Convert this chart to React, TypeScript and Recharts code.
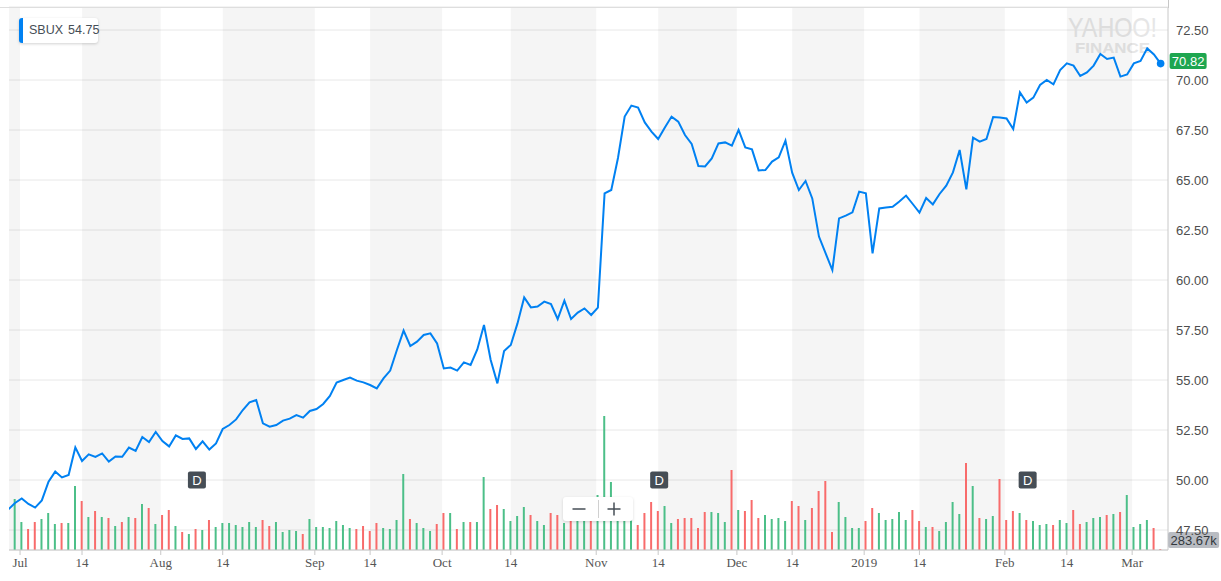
import React from 'react';
import {
  ComposedChart,
  Line,
  Bar,
  Cell,
  XAxis,
  YAxis,
  CartesianGrid,
  ReferenceArea,
  ReferenceDot,
} from 'recharts';

// ---------------- data ----------------
const symbol = 'SBUX';
const legendValue = 54.75;

const dates = [
  '2018-06-28', '2018-06-29',
  '2018-07-02', '2018-07-03', '2018-07-05', '2018-07-06', '2018-07-09', '2018-07-10', '2018-07-11', '2018-07-12', '2018-07-13',
  '2018-07-16', '2018-07-17', '2018-07-18', '2018-07-19', '2018-07-20', '2018-07-23', '2018-07-24', '2018-07-25', '2018-07-26',
  '2018-07-27', '2018-07-30', '2018-07-31',
  '2018-08-01', '2018-08-02', '2018-08-03', '2018-08-06', '2018-08-07', '2018-08-08', '2018-08-09', '2018-08-10', '2018-08-13',
  '2018-08-14', '2018-08-15', '2018-08-16', '2018-08-17', '2018-08-20', '2018-08-21', '2018-08-22', '2018-08-23', '2018-08-24',
  '2018-08-27', '2018-08-28', '2018-08-29', '2018-08-30', '2018-08-31',
  '2018-09-04', '2018-09-05', '2018-09-06', '2018-09-07', '2018-09-10', '2018-09-11', '2018-09-12', '2018-09-13', '2018-09-14',
  '2018-09-17', '2018-09-18', '2018-09-19', '2018-09-20', '2018-09-21', '2018-09-24', '2018-09-25', '2018-09-26', '2018-09-27',
  '2018-09-28',
  '2018-10-01', '2018-10-02', '2018-10-03', '2018-10-04', '2018-10-05', '2018-10-08', '2018-10-09', '2018-10-10', '2018-10-11',
  '2018-10-12', '2018-10-15', '2018-10-16', '2018-10-17', '2018-10-18', '2018-10-19', '2018-10-22', '2018-10-23', '2018-10-24',
  '2018-10-25', '2018-10-26', '2018-10-29', '2018-10-30', '2018-10-31',
  '2018-11-01', '2018-11-02', '2018-11-05', '2018-11-06', '2018-11-07', '2018-11-08', '2018-11-09', '2018-11-12', '2018-11-13',
  '2018-11-14', '2018-11-15', '2018-11-16', '2018-11-19', '2018-11-20', '2018-11-21', '2018-11-23', '2018-11-26', '2018-11-27',
  '2018-11-28', '2018-11-29', '2018-11-30',
  '2018-12-03', '2018-12-04', '2018-12-06', '2018-12-07', '2018-12-10', '2018-12-11', '2018-12-12', '2018-12-13', '2018-12-14',
  '2018-12-17', '2018-12-18', '2018-12-19', '2018-12-20', '2018-12-21', '2018-12-24', '2018-12-26', '2018-12-27', '2018-12-28',
  '2018-12-31',
  '2019-01-02', '2019-01-03', '2019-01-04', '2019-01-07', '2019-01-08', '2019-01-09', '2019-01-10', '2019-01-11', '2019-01-14',
  '2019-01-15', '2019-01-16', '2019-01-17', '2019-01-18', '2019-01-22', '2019-01-23', '2019-01-24', '2019-01-25', '2019-01-28',
  '2019-01-29', '2019-01-30', '2019-01-31',
  '2019-02-01', '2019-02-04', '2019-02-05', '2019-02-06', '2019-02-07', '2019-02-08', '2019-02-11', '2019-02-12', '2019-02-13',
  '2019-02-14', '2019-02-15', '2019-02-19', '2019-02-20', '2019-02-21', '2019-02-22', '2019-02-25', '2019-02-26', '2019-02-27',
  '2019-02-28',
  '2019-03-01', '2019-03-04', '2019-03-05', '2019-03-06', '2019-03-07',
];

const closes = [
  48.53, 48.85,
  49.08, 48.80, 48.62, 48.98, 49.92, 50.42, 50.13, 50.25, 51.63,
  50.95, 51.28, 51.15, 51.33, 50.92, 51.18, 51.16, 51.62, 51.45,
  52.15, 51.90, 52.40,
  51.95, 51.68, 52.23, 52.05, 52.08, 51.55, 51.93, 51.52, 51.83,
  52.55, 52.75, 53.03, 53.50, 53.88, 54.00, 52.83, 52.67, 52.75,
  52.97, 53.07, 53.25, 53.12, 53.45,
  53.55, 53.80, 54.20, 54.87, 55.00, 55.12, 54.97, 54.88, 54.75,
  54.58, 55.08, 55.47, 56.50, 57.47, 56.70, 56.92, 57.25, 57.33,
  56.83,
  55.58, 55.62, 55.47, 55.88, 55.75, 56.53, 57.75, 56.00, 54.83,
  56.45, 56.75, 57.83, 59.13, 58.63, 58.67, 58.92, 58.80, 58.05,
  58.97, 58.05, 58.37, 58.58, 58.25,
  58.62, 64.33, 64.50, 66.10, 68.17, 68.72, 68.62, 67.88, 67.42,
  67.05, 67.62, 68.17, 67.92, 67.25, 66.80, 65.70, 65.68, 66.08,
  66.83, 66.88, 66.72,
  67.50, 66.63, 66.53, 65.48, 65.50, 65.92, 66.13, 66.97, 65.37,
  64.50, 64.95, 64.08, 62.17, 61.33, 60.50, 63.08, 63.22, 63.38,
  64.42,
  64.33, 61.33, 63.58, 63.62, 63.66, 63.92, 64.22, 63.80, 63.37,
  64.10, 63.78, 64.30, 64.72, 65.38, 66.50, 64.53, 67.12, 66.92,
  67.05, 68.15, 68.12,
  68.08, 67.55, 69.38, 68.87, 69.12, 69.75, 70.00, 69.78, 70.50,
  70.83, 70.72, 70.20, 70.38, 70.72, 71.30, 71.05, 71.12, 70.17,
  70.28,
  70.83, 70.95, 71.58, 71.28, 70.82,
];

// volume, millions of shares
const volumes = [
  9.0, 15.3,
  8.4, 6.3, 8.4, 9.3, 11.1, 7.8, 8.1, 8.1, 19.2,
  14.7, 9.9, 11.7, 9.9, 9.6, 7.2, 8.4, 9.9, 9.6,
  13.8, 12.6, 7.8,
  10.5, 12.0, 7.2, 5.4, 4.8, 6.3, 6.0, 9.0, 6.9,
  8.1, 8.1, 7.5, 6.9, 8.4, 6.9, 9.0, 7.2, 8.4,
  5.4, 6.0, 5.7, 4.8, 9.3,
  6.9, 6.9, 6.6, 8.7, 7.5, 6.6, 6.3, 7.2, 5.7,
  8.1, 6.6, 6.3, 9.0, 22.8, 9.3, 8.1, 6.6, 5.7,
  7.8,
  11.1, 11.1, 6.3, 8.4, 8.4, 8.4, 21.9, 12.3, 13.5,
  12.3, 8.7, 10.2, 12.9, 10.5, 8.7, 7.5, 11.1, 10.5,
  8.1, 10.5, 9.9, 11.4, 10.8,
  16.5, 40.2, 20.4, 13.5, 12.0, 12.0, 7.5, 11.1, 14.4,
  11.7, 13.2, 8.1, 9.3, 9.6, 9.6, 6.6, 11.4, 11.4,
  11.1, 8.4, 24.0,
  12.0, 11.7, 15.0, 9.6, 10.5, 9.3, 9.6, 8.7, 14.7,
  13.2, 9.0, 12.6, 17.7, 20.7, 5.4, 14.4, 9.9, 6.6,
  6.6,
  8.7, 12.6, 11.1, 9.0, 9.3, 11.4, 9.0, 12.0, 8.7,
  6.9, 6.9, 5.7, 8.4, 14.4, 10.8, 26.1, 19.2, 9.6,
  9.3, 10.2, 21.3,
  9.0, 11.7, 11.1, 9.0, 8.7, 7.5, 7.8, 7.5, 9.0,
  8.1, 12.0, 7.8, 8.4, 9.6, 9.9, 10.5, 10.8, 11.4,
  16.5,
  6.9, 7.8, 9.0, 6.6, 0.28367,
];

const tickDates = [
  '2018-07-01', '2018-07-14', '2018-08-01', '2018-08-14', '2018-09-01', '2018-09-14',
  '2018-10-01', '2018-10-14', '2018-11-01', '2018-11-14', '2018-12-01', '2018-12-14',
  '2019-01-01', '2019-01-14', '2019-02-01', '2019-02-14', '2019-03-01',
];
const tickLabels = ['Jul', '14', 'Aug', '14', 'Sep', '14', 'Oct', '14', 'Nov', '14', 'Dec', '14', '2019', '14', 'Feb', '14', 'Mar'];

const priceTicks = [47.5, 50, 52.5, 55, 57.5, 60, 62.5, 65, 67.5, 70, 72.5];

const dividendDates = ['2018-08-08', '2018-11-14', '2019-02-06'];

// ---------------- derived ----------------
const rows = dates.map((d, i) => ({
  idx: i,
  date: d,
  close: closes[i],
  volume: volumes[i],
  up: i === 0 ? true : closes[i] >= closes[i - 1],
}));

const indexOfDate = (d: string) => {
  const k = dates.findIndex((x) => x >= d);
  return k < 0 ? dates.length - 1 : k;
};

const tickIdx = tickDates.map((d, k) => indexOfDate(d) - (tickLabels[k] === '14' ? 0 : 0.25));
const tickLabelMap = new Map<number, string>();
tickIdx.forEach((v, k) => tickLabelMap.set(v, tickLabels[k]));

const X_MIN = 0.1;
const X_MAX = 173.1;

const bands: [number, number][] = [[X_MIN, tickIdx[0]]];
for (let k = 1; k + 1 < tickIdx.length; k += 2) bands.push([tickIdx[k], tickIdx[k + 1]]);

const lastIdx = rows.length - 1;
const lastClose = closes[lastIdx];
const lastVolume = volumes[lastIdx];

// ---------------- styles ----------------
const BLUE = '#0081f2';
const GREEN = '#4cbf88';
const RED = '#f86b6b';
const SANS = '"Liberation Sans", Arial, Helvetica, sans-serif';
const SERIF = '"Liberation Serif", "Times New Roman", serif';
const AXIS = '#c8c8c8';

const LastPointMarker = (props: any) => {
  const { cx, cy } = props;
  return (
    <g>
      <circle cx={cx} cy={cy} r={3.8} fill={BLUE} />
      <rect x={cx + 9} y={cy - 10.5} width={37} height={16} rx={2} fill="#1ea650" />
      <text x={cx + 27.5} y={cy - 2.5} textAnchor="middle" dominantBaseline="central" fill="#ffffff" fontSize={13} fontFamily={SANS}>
        {lastClose.toFixed(2)}
      </text>
    </g>
  );
};

const VolumeBadge = (props: any) => {
  const { cx, cy } = props;
  const label = `${(lastVolume * 1000).toFixed(2)}k`;
  return (
    <g>
      <rect x={cx + 7.5} y={cy - 17} width={51} height={16} rx={2} fill="#b9bcc2" />
      <text x={cx + 33} y={cy - 9} textAnchor="middle" dominantBaseline="central" fill="#33383d" fontSize={13} fontFamily={SANS}>
        {label}
      </text>
    </g>
  );
};

const DividendMarker = (props: any) => {
  const { cx, cy } = props;
  return (
    <g>
      <rect x={cx - 8} y={cy - 8.5} width={18} height={17} rx={2} fill="#464e56" />
      <text x={cx + 1} y={cy + 0.5} textAnchor="middle" dominantBaseline="central" fill="#ffffff" fontSize={13} fontFamily={SANS}>
        D
      </text>
    </g>
  );
};

export default function App() {
  return (
    <div style={{ position: 'absolute', left: 0, top: 0, width: 1221, height: 581, background: '#fff', overflow: 'hidden' }}>
      {/* watermark (behind chart) */}
      <svg width={1221} height={581} style={{ position: 'absolute', left: 0, top: 0, zIndex: 0 }}>
        <text x={1068} y={37} fontSize={28} fontFamily={SANS} fill="#e6e6e6" textLength={89} lengthAdjust="spacingAndGlyphs">
          YAHOO!
        </text>
        <text x={1075} y={52.5} fontSize={14} fontWeight="bold" fontFamily={SANS} fill="#e6e6e6" textLength={75} lengthAdjust="spacingAndGlyphs">
          FINANCE
        </text>
      </svg>

      <div style={{ position: 'absolute', left: 0, top: 0, zIndex: 1 }}>
        <ComposedChart width={1221} height={581} data={rows} margin={{ top: 7, right: 0, bottom: 0, left: 9 }}>
          {bands.map(([a, b], k) => (
            <ReferenceArea key={`band-${k}`} x1={a} x2={b} fill="#000000" fillOpacity={0.04} stroke="none" ifOverflow="hidden" />
          ))}
          <CartesianGrid vertical={false} stroke="#e8e8e8" />
          <XAxis
            dataKey="idx"
            type="number"
            domain={[X_MIN, X_MAX]}
            allowDataOverflow
            ticks={tickIdx}
            interval={0}
            tickFormatter={(v: number) => tickLabelMap.get(v) ?? ''}
            height={31}
            tickSize={5}
            tickMargin={3}
            axisLine={{ stroke: AXIS }}
            tickLine={{ stroke: AXIS }}
            tick={{ fontFamily: SERIF, fontSize: 13, fill: '#555555' }}
          />
          <YAxis
            orientation="right"
            domain={[46.5, 73.65]}
            allowDataOverflow
            ticks={priceTicks}
            interval={0}
            tickFormatter={(v: number) => v.toFixed(2)}
            width={53}
            tickLine={false}
            axisLine={{ stroke: AXIS }}
            tick={{ fontFamily: SANS, fontSize: 13, fill: '#4d4d4d' }}
          />
          <YAxis yAxisId="vol" hide domain={[0, 162.9]} allowDataOverflow />
          <Bar dataKey="volume" yAxisId="vol" barSize={2} isAnimationActive={false}>
            {rows.map((r) => (
              <Cell key={`c-${r.idx}`} fill={r.up ? GREEN : RED} />
            ))}
          </Bar>
          <Line
            dataKey="close"
            type="linear"
            stroke={BLUE}
            strokeWidth={2}
            dot={false}
            activeDot={false}
            isAnimationActive={false}
          />
          {dividendDates.map((d) => (
            <ReferenceDot key={d} x={indexOfDate(d)} y={50} r={8} shape={DividendMarker} />
          ))}
          <ReferenceDot x={lastIdx} y={lastClose} r={4} shape={LastPointMarker} />
          <ReferenceDot x={lastIdx} y={lastVolume} yAxisId="vol" r={2} shape={VolumeBadge} />
        </ComposedChart>
      </div>

      {/* top border + right axis extension */}
      <div style={{ position: 'absolute', left: 0, top: 7, width: 1169, height: 1, background: '#dedede', zIndex: 2 }} />
      <div style={{ position: 'absolute', left: 1168, top: 0, width: 1, height: 8, background: AXIS, zIndex: 2 }} />

      {/* legend */}
      <div
        style={{
          position: 'absolute',
          left: 19,
          top: 18,
          height: 25,
          width: 79,
          borderLeft: `4px solid ${BLUE}`,
          borderRadius: 3,
          background: '#ffffff',
          boxShadow: '0 1px 3px rgba(0,0,0,0.18)',
          fontFamily: SANS,
          fontSize: 12.5,
          color: '#464e56',
          lineHeight: '25px',
          paddingLeft: 6,
          boxSizing: 'border-box',
          whiteSpace: 'nowrap',
          zIndex: 3,
        }}
      >
        <span>{symbol}</span>
        <span style={{ marginLeft: 5 }}>{legendValue.toFixed(2)}</span>
      </div>

      {/* zoom control */}
      <div
        style={{
          position: 'absolute',
          left: 563,
          top: 497,
          width: 70,
          height: 24,
          background: '#ffffff',
          borderRadius: 3,
          boxShadow: '0 1px 3px rgba(0,0,0,0.15)',
          zIndex: 3,
        }}
      >
        <svg width={70} height={24} style={{ display: 'block' }}>
          <line x1={9.5} x2={22.5} y1={12} y2={12} stroke="#464e56" strokeWidth={1.5} />
          <line x1={35.5} x2={35.5} y1={3} y2={21} stroke="#d0d0d0" strokeWidth={1} />
          <line x1={44.5} x2={57.5} y1={12} y2={12} stroke="#464e56" strokeWidth={1.5} />
          <line x1={51} x2={51} y1={5.5} y2={18.5} stroke="#464e56" strokeWidth={1.5} />
        </svg>
      </div>
    </div>
  );
}
